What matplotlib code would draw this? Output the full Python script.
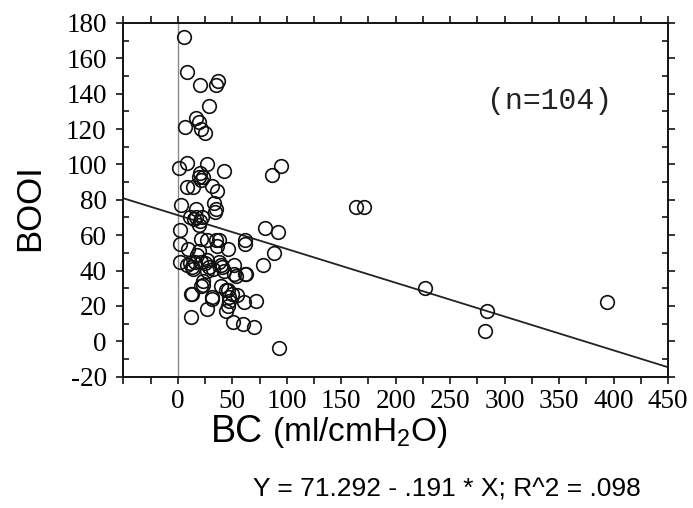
import matplotlib
matplotlib.use("Agg")
import matplotlib.pyplot as plt
from matplotlib.ticker import MultipleLocator, FixedLocator, FixedFormatter

plt.rcParams['mathtext.fontset'] = 'custom'
plt.rcParams['mathtext.rm'] = 'Liberation Sans'
plt.rcParams['mathtext.default'] = 'rm'
plt.rcParams['axes.unicode_minus'] = False

# ---- data ----
bc = [6, 8, 20, 37, 35, 29, 7, 17, 19, 21, 25,
      1, 8, 27, 42, 19, 21, 23, 86, 95, 20,
      8, 14, 31, 36, 3, 17, 33, 35, 34, 11, 17, 20, 19, 15, 22,
      2, 2, 21, 27, 35, 38, 46, 62, 62, 80, 92, 36,
      9, 19, 18, 2, 8, 11, 13, 14, 21, 25, 27, 27, 29, 32, 40, 41, 42, 52, 52, 53, 62, 63, 78, 88, 38, 16,
      23, 23, 21, 12, 13, 31, 31, 40, 44, 46, 50, 47, 47, 46, 54, 61, 72,
      27, 12, 44, 51, 60, 70,
      93, 164, 171, 227, 284, 282, 394]
booi = [172, 152, 145, 147, 145, 133, 121, 126, 124, 120, 118,
        98, 101, 100, 96, 93, 91, 93, 94, 99, 95,
        87, 87, 88, 85, 77, 75, 78, 75, 73, 70, 70, 68, 66, 69, 70,
        63, 55, 58, 57, 57, 57, 52, 57, 55, 64, 62, 54,
        52, 51, 49, 45, 43, 44, 42, 41, 45, 44, 46, 40, 42, 41, 43, 42, 40, 43, 38, 37, 38, 38, 43, 50, 45, 45,
        34, 32, 31, 27, 27, 25, 24, 31, 29, 29, 27, 25, 23, 20, 26, 22, 23,
        18, 14, 17, 11, 10, 8,
        -4, 76, 76, 30, 17, 6, 22]
intercept = 71.292
slope = -0.191
r_squared = ".098"
n_label = "(n=104)"
x_ticks = [-50, 0, 50, 100, 150, 200, 250, 300, 350, 400, 450]
x_ticklabels = ["", "0", "50", "100", "150", "200", "250", "300", "350", "400", "450"]
y_ticks = [-20, 0, 20, 40, 60, 80, 100, 120, 140, 160, 180]
xlim = (-50, 450)
ylim = (-20, 180)

fig = plt.figure(figsize=(6.93, 5.08), dpi=100)
ax = fig.add_axes([0.178, 0.2585, 0.786, 0.6965])

ax.axvline(0, color='#8a8a8a', lw=1.0, zorder=1)
ax.plot(bc, booi, linestyle='none', marker='o', markersize=9.8,
        markerfacecolor='none', markeredgecolor='#111111', markeredgewidth=1.2, zorder=3)
ax.plot(list(xlim), [intercept + slope * xlim[0], intercept + slope * xlim[1]],
        color='#222222', lw=1.3, zorder=2)

ax.set_xlim(*xlim)
ax.set_ylim(*ylim)

ax.xaxis.set_major_locator(FixedLocator(x_ticks))
ax.xaxis.set_major_formatter(FixedFormatter(x_ticklabels))
ax.xaxis.set_minor_locator(MultipleLocator(25))
ax.yaxis.set_major_locator(FixedLocator(y_ticks))
ax.yaxis.set_minor_locator(MultipleLocator(10))

for lab in ax.get_xticklabels() + ax.get_yticklabels():
    lab.set_fontfamily('Liberation Serif')
    lab.set_fontsize(19.5)

ax.tick_params(axis='x', which='both', direction='out', length=5, width=1.1,
               top=True, pad=4)
ax.tick_params(axis='y', which='major', direction='out', length=5, width=1.1,
               right=True, pad=7)
ax.tick_params(axis='y', which='minor', direction='in', length=4, width=1.1, right=True)
for sp in ax.spines.values():
    sp.set_linewidth(1.4)
    sp.set_color('#111111')

ax.text(341, 136, n_label, family='Liberation Mono', fontsize=21.5,
        ha='center', va='center', color='#222222')

fig.text(30 / 693, 1 - 208 / 508, 'BOOI', rotation=90, family='Liberation Sans',
         fontsize=25, ha='center', va='center')

t1 = fig.text(263 / 693, 1 - 442 / 508, 'BC', family='Liberation Sans',
              fontsize=27, ha='right', va='baseline')
fig.canvas.draw()
ax.annotate(' (ml/cmH$_2$O)', xy=(1, 0), xycoords=t1, family='Liberation Sans',
            fontsize=24, ha='left', va='bottom', annotation_clip=False)

eq = f"Y = {intercept:.3f} - {str(abs(slope))[1:]} * X; R^2 = {r_squared}"
fig.text(447 / 693, 1 - 490 / 508, eq,
         family='Liberation Sans', fontsize=19, ha='center', va='center')

fig.savefig('out.png', dpi=100)
